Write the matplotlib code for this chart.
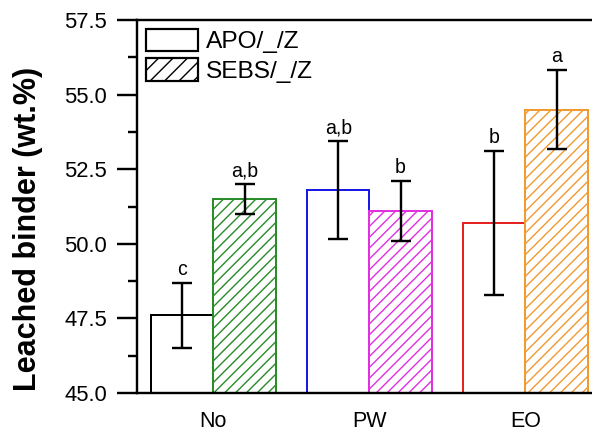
import matplotlib
matplotlib.use("Agg")
import matplotlib.pyplot as plt
import numpy as np
from matplotlib.ticker import MultipleLocator, FormatStrFormatter
from matplotlib.patches import Patch

# Data
groups = ["No", "PW", "EO"]
apo_mean = [47.6, 51.8, 50.7]
apo_err = [1.08, 1.63, 2.40]
sebs_mean = [51.5, 51.1, 54.5]
sebs_err = [0.50, 1.02, 1.33]
apo_letters = ["c", "a,b", "b"]
sebs_letters = ["a,b", "b", "a"]
series_names = ["APO/_/Z", "SEBS/_/Z"]

apo_colors = ["#000000", "#1a1ae6", "#e62222"]
sebs_colors = ["#2a8c2a", "#e030e0", "#f09a30"]

DPI = 130
PT = 72.0 / DPI  # points per pixel

plt.rcParams["font.family"] = ["Liberation Sans", "DejaVu Sans"]
plt.rcParams["hatch.linewidth"] = 1.4 * PT

fig = plt.figure(figsize=(592 / DPI, 432 / DPI), dpi=DPI)
ax = fig.add_axes([137 / 592, 1 - 393 / 432, 482 / 592, 373 / 432])

x = np.arange(len(groups))
w = 0.4
edge_lw = 2.0 * PT

for i in range(len(groups)):
    ax.bar(x[i] - w / 2, apo_mean[i], width=w, facecolor="white",
           edgecolor=apo_colors[i], linewidth=edge_lw, zorder=2)
    ax.bar(x[i] + w / 2, sebs_mean[i], width=w, facecolor="white",
           edgecolor=sebs_colors[i], hatch="////", linewidth=edge_lw, zorder=2)

ekw = dict(fmt="none", ecolor="black", elinewidth=2.4 * PT, capsize=10 * PT,
           capthick=2.4 * PT, zorder=3)
ax.errorbar(x - w / 2, apo_mean, yerr=apo_err, **ekw)
ax.errorbar(x + w / 2, sebs_mean, yerr=sebs_err, **ekw)

letter_size = 19.5 * PT
for i in range(len(groups)):
    ax.annotate(apo_letters[i], (x[i] - w / 2, apo_mean[i] + apo_err[i]),
                xytext=(0, 4 * PT), textcoords="offset points",
                ha="center", va="bottom", fontsize=letter_size)
    ax.annotate(sebs_letters[i], (x[i] + w / 2, sebs_mean[i] + sebs_err[i]),
                xytext=(0, 4 * PT), textcoords="offset points",
                ha="center", va="bottom", fontsize=letter_size)

ax.set_xlim(-0.49, 2.6)
ax.set_ylim(45.0, 57.5)

ax.yaxis.set_major_locator(MultipleLocator(2.5))
ax.yaxis.set_minor_locator(MultipleLocator(1.25))
ax.yaxis.set_major_formatter(FormatStrFormatter("%.1f"))

ax.set_xticks(x)
ax.set_xticklabels(groups)
ax.tick_params(axis="x", length=0, pad=18 * PT, labelsize=21.5 * PT)
ax.tick_params(axis="y", which="major", direction="out", length=20 * PT,
               width=2.4 * PT, pad=10 * PT, labelsize=22 * PT)
ax.tick_params(axis="y", which="minor", direction="out", length=9 * PT,
               width=2.4 * PT)
ax.tick_params(right=False, top=False)

for side in ["left", "bottom", "top"]:
    ax.spines[side].set_linewidth(2.4 * PT)
ax.spines["right"].set_visible(False)

ax.set_ylabel("Leached binder (wt.%)", fontsize=30.5 * PT, fontweight="bold")
ax.yaxis.set_label_coords(-0.196, 0.44)

handles = [Patch(facecolor="white", edgecolor="black", linewidth=2.2 * PT),
           Patch(facecolor="white", edgecolor="black", hatch="///", linewidth=2.2 * PT)]
ax.legend(handles, series_names, loc="upper left", bbox_to_anchor=(0.0, 1.0),
          frameon=False, fontsize=24.5 * PT, handlelength=2.15, handleheight=1.05,
          handletextpad=0.3, labelspacing=0.2, borderaxespad=0.35, borderpad=0.0)

fig.savefig("out.png", dpi=DPI)
